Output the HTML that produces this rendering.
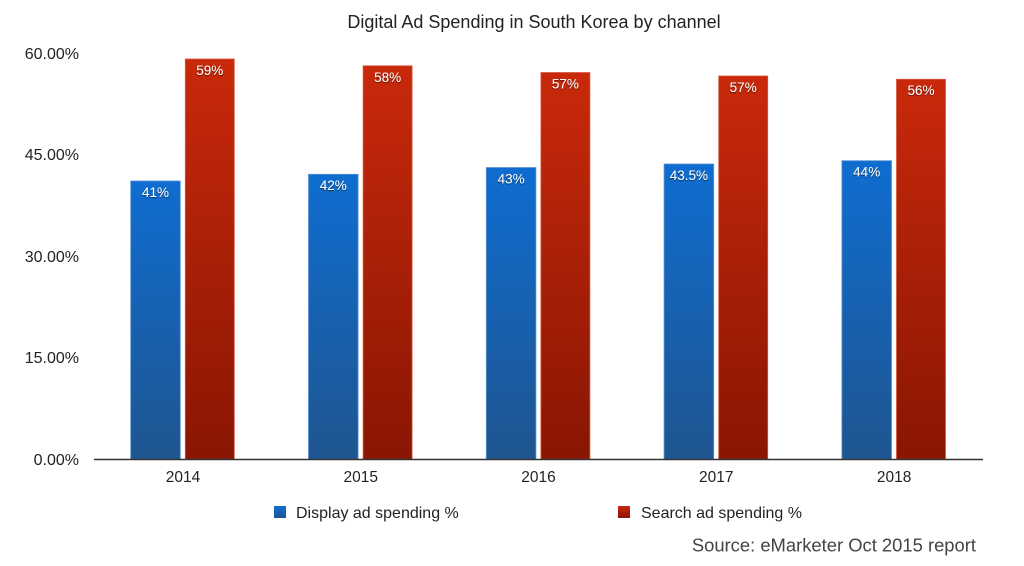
<!DOCTYPE html>
<html>
<head>
<meta charset="utf-8">
<style>
html,body{margin:0;padding:0;background:#fff;}
svg{display:block;}
text{font-family:"Liberation Sans",Arial,sans-serif;}
</style>
</head>
<body>
<svg width="1024" height="566" viewBox="0 0 1024 566" xmlns="http://www.w3.org/2000/svg">
<defs>
<linearGradient id="gb" x1="0" y1="0" x2="0" y2="1">
<stop offset="0" stop-color="#0f6dd0"/>
<stop offset="1" stop-color="#1f5590"/>
</linearGradient>
<linearGradient id="gr" x1="0" y1="0" x2="0" y2="1">
<stop offset="0" stop-color="#c9290a"/>
<stop offset="1" stop-color="#891604"/>
</linearGradient>
<filter id="sh" x="-20%" y="-20%" width="140%" height="140%">
<feDropShadow dx="0" dy="1" stdDeviation="0.6" flood-color="#000" flood-opacity="0.6"/>
</filter>
</defs>
<rect width="1024" height="566" fill="#fff"/>

<text x="534" y="28" font-size="18" fill="#222" text-anchor="middle">Digital Ad Spending in South Korea by channel</text>

<g font-size="16" fill="#222" text-anchor="end">
<text x="79" y="59">60.00%</text>
<text x="79" y="160">45.00%</text>
<text x="79" y="262">30.00%</text>
<text x="79" y="363">15.00%</text>
<text x="79" y="465">0.00%</text>
</g>

<!-- bars -->
<g stroke-width="0.8">
<rect x="130.7" y="181" width="49.6" height="278.3" fill="url(#gb)" stroke="#5b92d0"/>
<rect x="185.3" y="59" width="49" height="400.3" fill="url(#gr)" stroke="#d45a3e"/>
<rect x="308.5" y="174.3" width="49.6" height="285" fill="url(#gb)" stroke="#5b92d0"/>
<rect x="363.1" y="65.8" width="49" height="393.5" fill="url(#gr)" stroke="#d45a3e"/>
<rect x="486.3" y="167.5" width="49.6" height="291.8" fill="url(#gb)" stroke="#5b92d0"/>
<rect x="540.9" y="72.5" width="49" height="386.8" fill="url(#gr)" stroke="#d45a3e"/>
<rect x="664.1" y="164" width="49.6" height="295.3" fill="url(#gb)" stroke="#5b92d0"/>
<rect x="718.7" y="76" width="49" height="383.3" fill="url(#gr)" stroke="#d45a3e"/>
<rect x="841.9" y="160.7" width="49.6" height="298.6" fill="url(#gb)" stroke="#5b92d0"/>
<rect x="896.5" y="79.3" width="49" height="380" fill="url(#gr)" stroke="#d45a3e"/>
</g>

<g font-size="13.5" fill="#fff" text-anchor="middle" filter="url(#sh)">
<text x="155.5" y="197">41%</text>
<text x="209.8" y="75">59%</text>
<text x="333.3" y="190">42%</text>
<text x="387.6" y="82">58%</text>
<text x="511.1" y="183.5">43%</text>
<text x="565.4" y="88.5">57%</text>
<text x="688.9" y="180">43.5%</text>
<text x="743.2" y="92">57%</text>
<text x="866.7" y="176.5">44%</text>
<text x="921" y="95">56%</text>
</g>

<line x1="94" y1="459.5" x2="983" y2="459.5" stroke="#333" stroke-width="1.5"/>

<g font-size="15.5" fill="#222" text-anchor="middle">
<text x="183" y="482">2014</text>
<text x="360.7" y="482">2015</text>
<text x="538.5" y="482">2016</text>
<text x="716.3" y="482">2017</text>
<text x="894.1" y="482">2018</text>
</g>

<rect x="274" y="506" width="12" height="12" fill="url(#gb)"/>
<text x="296" y="518" font-size="16" fill="#222">Display ad spending %</text>
<rect x="618" y="506" width="12" height="12" fill="url(#gr)"/>
<text x="641" y="518" font-size="16" fill="#222">Search ad spending %</text>

<text x="976" y="551.5" font-size="18.4" fill="#444" text-anchor="end">Source: eMarketer Oct 2015 report</text>
</svg>
</body>
</html>
